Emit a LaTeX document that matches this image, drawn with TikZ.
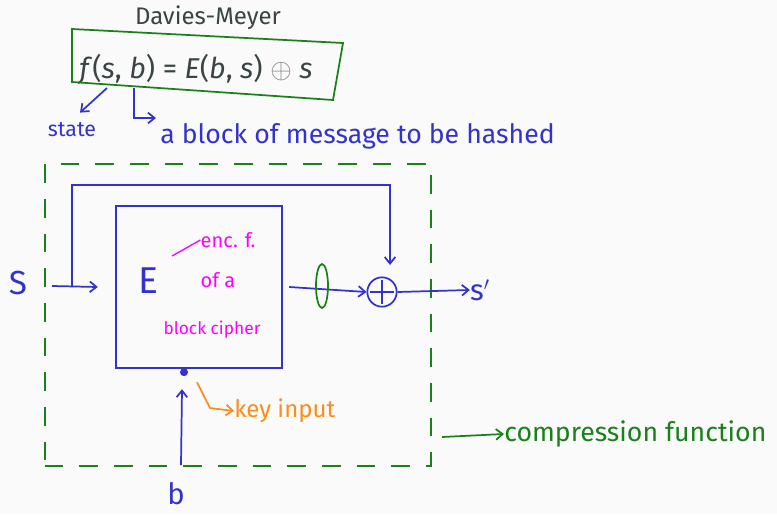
\documentclass[tikz,border=0pt]{standalone}
\usepackage{fontspec}
\setmainfont{Fira Sans}
\usetikzlibrary{arrows.meta,calc}
\definecolor{bg}{HTML}{FAFAFA}
\definecolor{ink}{HTML}{3333CC}
\definecolor{grn}{HTML}{1A801A}
\definecolor{mag}{HTML}{FF00FF}
\definecolor{org}{HTML}{FF8C1A}
\definecolor{ttl}{HTML}{3A4444}
\tikzset{
  bline/.style={draw=ink, line width=1.3pt},
  barrow/.style={bline, -{Straight Barb[length=5pt,width=8pt]}},
  gline/.style={draw=grn, line width=1.3pt},
  hand/.style={text=ink, font=\fontsize{20}{22}\selectfont, inner sep=0pt},
  magtext/.style={text=mag, font=\fontsize{13}{15}\selectfont, inner sep=0pt},
}
\begin{document}
\begin{tikzpicture}[x=0.75pt,y=-0.75pt]
\fill[bg] (0,0) rectangle (777,514);
\useasboundingbox (0,0) rectangle (777,514);
% title and formula
\node[text=ttl, font=\fontsize{18}{20}\selectfont, inner sep=0pt] (title) at (208,18) {Davies-Meyer};
\node[text=ttl, font=\fontsize{21.5}{23}\selectfont, inner sep=0pt] (formula) at (196,69)
  {\textit{f}(\textit{s}, \textit{b}) = \textit{E}(\textit{b}, \textit{s}) \textcolor{gray}{$\oplus$} \textit{s}};
\draw[gline] (72,29) -- (343,43) -- (333,100) -- (72,82) -- cycle;
\coordinate (fs) at (107,88);
\coordinate (fb) at (134,88);
\node[hand, font=\fontsize{16}{18}\selectfont] (state) at (72,130) {state};
\draw[barrow] (fs) -- ($(state.north)+(8,-10)$);
\node[hand, anchor=west] (blk) at (160,136) {a block of message to be hashed};
\draw[barrow] (fb) |- ($(blk.west)+(-4,-18)$);
% compression box
\node[draw=grn, line width=1.3pt, dash pattern=on 14pt off 12pt, minimum width=290pt, minimum height=226pt, inner sep=0pt] (comp) at (238,315) {};
% E box
\node[bline, minimum width=125pt, minimum height=122pt, inner sep=0pt] (E) at (199,287) {};
\node[text=ink, font=\fontsize{28}{30}\selectfont, inner sep=0pt] (Elab) at (148,281) {E};
\node[magtext, font=\fontsize{15}{17}\selectfont] (enc) at (228,240) {enc. f.};
\draw[draw=mag, line width=1pt] (172,256) -- (enc.west);
\node[magtext, font=\fontsize{15}{17}\selectfont] (ofa) at (218,280) {of a};
\node[magtext] (bc) at (212,330) {block cipher};
% input s
\node[hand, font=\fontsize{25}{27}\selectfont] (s) at (18,283) {S};
\coordinate (sin) at (52,286);
\draw[barrow] (sin) -- ($(E.west)+(-17,0)$);
% XOR
\node[bline, circle, minimum size=22pt, inner sep=0pt] (xor) at (382,292) {};
\draw[bline] ($(xor.north)+(0,4)$) -- ($(xor.south)+(0,-4)$) ($(xor.west)+(4,0)$) -- ($(xor.east)+(-4,0)$);
\draw[barrow] ($(E.east)+(6,0)$) -- (xor.west);
\draw[gline] (322,286) ellipse (6 and 22);
% feedback
\coordinate (tap) at (72,286);
\draw[barrow] (tap) -- (72,185) -- (390,185) -- (390,265);
% output
\node[hand, font=\fontsize{22}{24}\selectfont] (sp) at (480,290) {s$'$};
\draw[barrow] (xor.east) -- (sp.west);
% key
\coordinate (keyin) at ($(E.south)+(-15,3)$);
\fill[ink] (keyin) circle (4);
\node[text=org, font=\fontsize{18}{20}\selectfont, inner sep=0pt, anchor=west] (key) at (234,411) {key input};
\draw[draw=org, line width=1.3pt, -{Straight Barb[length=5pt,width=8pt]}] ($(keyin)+(13,10)$) -- (210,408) -- (key.west);
\node[hand, font=\fontsize{22}{24}\selectfont] (b) at (176,494) {b};
\coordinate (bstart) at (181,465);
\draw[barrow] (bstart) -- ($(keyin)+(-2,17)$);
% compression function label
\node[text=grn, font=\fontsize{20}{22}\selectfont, inner sep=0pt, anchor=west] (cf) at (504,434) {compression function};
\draw[gline, -{Straight Barb[length=5pt,width=8pt]}] (442,437) -- (cf.west);
\end{tikzpicture}
\end{document}
